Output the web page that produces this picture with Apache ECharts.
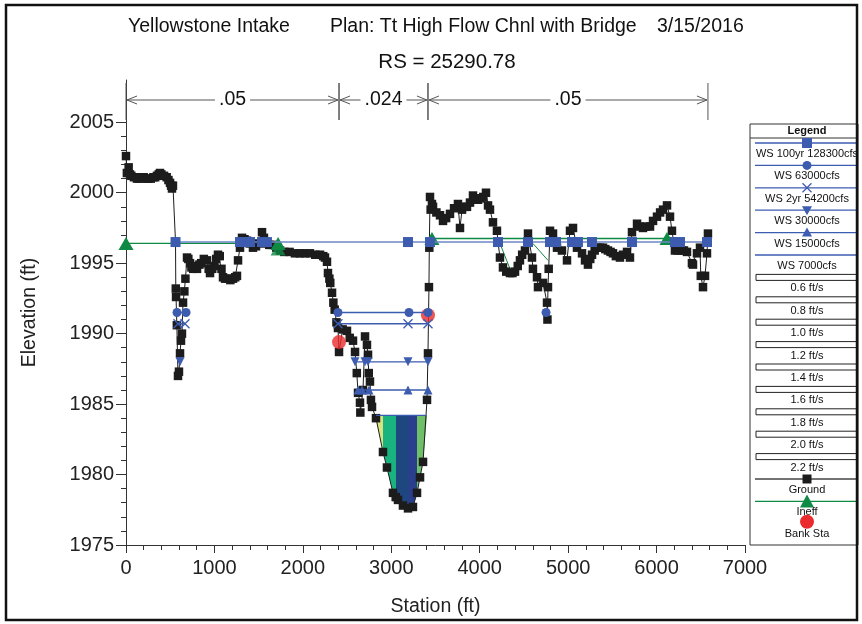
<!DOCTYPE html>
<html>
<head>
<meta charset="utf-8">
<title>Yellowstone Intake RS 25290.78</title>
<script src="https://cdn.jsdelivr.net/npm/echarts@6/dist/echarts.min.js"></script>
<style>
html, body { margin: 0; padding: 0; background: #fff; }
#chart { width: 862px; height: 624px; }
</style>
</head>
<body>
<div id="chart"></div>
<script>
// ground profile, station (ft) / elevation (ft)
var groundSta = [0, 10, 30, 45, 60, 90, 124, 150, 175, 200, 230, 250, 280, 310, 330, 350, 370, 384, 400, 430, 460, 480, 498, 510, 520, 531,
    560, 563, 566, 575, 588, 599, 611, 622, 633, 645, 660, 672, 690, 705, 724, 740, 760, 780, 803, 830, 850, 880, 916, 935, 950, 975, 1000,
    1020, 1040, 1060, 1080, 1097, 1120, 1150, 1180, 1210, 1235, 1255, 1267, 1289, 1312, 1340, 1368, 1400, 1436, 1470, 1500, 1538, 1560,
    1594, 1620, 1650, 1700, 1742, 1790, 1850, 1910, 1968, 2020, 2080, 2140, 2194, 2230, 2250, 2273, 2284, 2300, 2310, 2330, 2345, 2360,
    2380, 2397, 2409, 2450, 2499, 2530, 2567, 2590, 2610, 2624, 2646, 2650, 2680, 2703, 2725, 2737, 2745, 2759, 2770, 2782, 2827, 2906,
    2951, 3019, 3050, 3076, 3132, 3189, 3245, 3291, 3325, 3359, 3404, 3415, 3426, 3430, 3438, 3445, 3460, 3472, 3510, 3551, 3585, 3620,
    3664, 3710, 3754, 3777, 3800, 3830, 3856, 3890, 3924, 3950, 3981, 4010, 4040, 4071, 4094, 4116, 4150, 4195, 4207, 4229, 4263, 4300,
    4342, 4370, 4399, 4430, 4455, 4480, 4512, 4546, 4591, 4602, 4648, 4659, 4716, 4761, 4766, 4772, 4780, 4795, 4829, 4874, 4930, 4987,
    5021, 5055, 5100, 5157, 5191, 5224, 5250, 5270, 5300, 5326, 5360, 5394, 5420, 5450, 5480, 5507, 5540, 5586, 5620, 5666, 5699, 5722,
    5779, 5810, 5846, 5880, 5926, 5960, 6005, 6040, 6073, 6118, 6152, 6174, 6208, 6240, 6287, 6310, 6344, 6400, 6412, 6457, 6491, 6500,
    6525, 6548, 6570, 6581];
var groundElev = [2002.6, 2001.4, 2001.8, 2001.3, 2001.2, 2001.1, 2001.0, 2001.0, 2001.1, 2001.1, 2001.0, 2001.0, 2001.0, 2001.1, 2001.1, 2001.2, 2001.3, 2001.4, 2001.3, 2001.2, 2001.1, 2000.9, 2000.7, 2000.5, 2000.3, 2000.5,
    1996.5, 1993.2, 1992.6, 1990.6, 1987.0, 1987.3, 1988.6, 1989.5, 1990.0, 1992.2, 1993.0, 1993.9, 1995.4, 1995.3, 1995.0, 1994.7, 1994.6, 1994.8, 1994.6, 1994.9, 1995.0, 1995.3, 1995.2, 1994.6, 1994.3, 1994.6, 1994.8,
    1995.3, 1995.6, 1995.5, 1994.6, 1994.0, 1993.9, 1993.9, 1993.8, 1993.9, 1994.0, 1994.1, 1995.2, 1996.1, 1996.8, 1996.7, 1996.6, 1996.4, 1996.1, 1996.2, 1996.4, 1997.2, 1996.8,
    1996.4, 1996.3, 1996.3, 1996.1, 1995.9, 1995.8, 1995.8, 1995.7, 1995.7, 1995.7, 1995.7, 1995.6, 1995.6, 1995.5, 1995.4, 1995.1, 1994.3, 1993.9, 1993.6, 1992.9, 1992.2, 1991.7,
    1990.8, 1990.4, 1988.7, 1990.3, 1990.2, 1989.7, 1989.5, 1988.7, 1987.2, 1985.8, 1985.1, 1984.4, 1986.0, 1989.8, 1989.2, 1988.5, 1987.2, 1986.6, 1985.3, 1984.8, 1984.0, 1981.6,
    1980.5, 1978.7, 1978.4, 1978.2, 1977.8, 1977.6, 1977.7, 1978.7, 1979.8, 1980.9, 1985.3, 1988.6, 1993.3, 1996.1, 1999.7, 1998.8, 1999.2, 1999.0, 1998.6, 1998.4, 1998.0, 1998.2,
    1998.5, 1998.9, 1999.2, 1997.5, 1998.8, 1999.0, 1999.0, 1999.3, 1999.8, 1999.6, 1999.5, 1999.6, 1999.7, 2000.0, 1999.1, 1998.8, 1997.9, 1997.3, 1996.5, 1995.4, 1994.7, 1994.4,
    1994.3, 1994.3, 1994.4, 1994.8, 1995.2, 1995.6, 1995.9, 1997.1, 1995.4, 1994.6, 1994.0, 1993.3, 1993.6, 1992.2, 1991.0, 1993.3, 1994.6, 1997.3, 1997.1, 1996.1, 1995.9, 1995.2,
    1997.3, 1997.5, 1996.1, 1995.7, 1995.2, 1994.9, 1995.3, 1995.6, 1995.9, 1996.1, 1996.1, 1996.1, 1996.0, 1995.9, 1995.8, 1995.7, 1995.5, 1995.4, 1995.6, 1995.8, 1995.4, 1997.2,
    1997.8, 1997.6, 1997.5, 1997.6, 1997.6, 1998.0, 1998.3, 1998.6, 1998.8, 1999.1, 1998.3, 1997.3, 1995.9, 1995.9, 1995.9, 1995.9, 1995.8, 1995.0, 1994.9, 1995.7, 1996.1, 1994.1,
    1993.3, 1994.1, 1995.7, 1997.1];

// water surfaces (null = gap)
var ws100Elev = 1996.5;
var ws100Sta = [560, 1289, 1346, 1402, 1538, 1594, 3189, 3438, 4207, 4546, 4795, 4863, 5044, 5111, 5270, 5722, 6208, 6265, 6570];
var ws63Elev = 1991.5;
var ws63Sta = [577, 679, null, 2397, 3200, 3415, null, 4750];
var ws54Elev = 1990.7;
var ws54Sta = [588, 667, null, 2397, 3189, 3415];
var ws30Elev = 1988.0;
var ws30Sta = [611, null, 2590, 2703, 2737, 3189, 3415];
var ws15Elev = 1986.0;
var ws15Sta = [2624, 2669, 2748, 3189, 3415];
var ws7Elev = 1984.2;
var ws7Sta = [2827, 3393];

// ineffective flow areas
var ineffSta = [0, 1720, null, 3460, 6118];
var ineffElev = [1996.4, 1996.4, null, 1996.75, 1996.75];
var ineffLowSta = [1720];
var ineffLowElev = [1996.0];
var hatchSta = [4229, 4342, null, 4602, 4772];
var hatchElev = [1996.4, 1994.6, null, 1996.4, 1995.2];

// bank stations
var bankSta = [2409, 3415];
var bankElev = [1989.4, 1991.3];

// velocity distribution for WS 7000cfs
var velSta = [2827, 2906, 3053, 3189, 3291, 3404];

// manning's n
var nSta = [0, 2409, 3415, 6581];
var nVal = ['.05', '.024', '.05'];

// axis ticks
var yLabels = [1975, 1980, 1985, 1990, 1995, 2000, 2005];
var yMinor = [];
for (var t = 1976; t < 2005; t++) if (t % 5 !== 0) yMinor.push(t);

var legendNames = ['WS 100yr 128300cfs', 'WS 63000cfs', 'WS 2yr 54200cfs', 'WS 30000cfs', 'WS 15000cfs', 'WS 7000cfs'];
var velLabels = ['0.6 ft/s', '0.8 ft/s', '1.0 ft/s', '1.2 ft/s', '1.4 ft/s', '1.6 ft/s', '1.8 ft/s', '2.0 ft/s', '2.2 ft/s'];

var FONT = 'Arial, "Liberation Sans", Helvetica, sans-serif';
var BLUE = '#3d5cb0';
var GREEN = '#0f8a44';
var RED = '#ea2a2c';
var BLACK = '#1c1c1c';
var velColors = ['#d9e37f', '#18b37e', '#1f477f', '#2a3f8b', '#6fbf69'];
var X_PATH = 'path://M0,0L10,10M10,0L0,10';

function pairs(xs, ys) {
    return xs.map(function(x, i) {
        return x === null ? ['-', '-'] : [x, ys[i]];
    });
}
function flat(xs, y) {
    return xs.map(function(x) {
        return x === null ? ['-', '-'] : [x, y];
    });
}
function groundAt(s) {
    for (var i = 0; i < groundSta.length - 1; i++) {
        var a = groundSta[i], b = groundSta[i + 1];
        if (b > a && s >= a && s <= b) {
            return groundElev[i] + (groundElev[i + 1] - groundElev[i]) * (s - a) / (b - a);
        }
    }
    return ws7Elev;
}

function wsSeries(name, data, symbol, size, extra) {
    var s = {
        name: name,
        type: 'line',
        data: data,
        symbol: symbol,
        symbolSize: size,
        showAllSymbol: true,
        z: 4,
        lineStyle: { color: BLUE, width: 1.3 },
        itemStyle: { color: BLUE }
    };
    for (var k in extra) s[k] = extra[k];
    return s;
}

var chart = echarts.init(document.getElementById('chart'));

// legend drawn as graphics, one row every ~22.4px
var legendItems = [];
var LX0 = 750, LX1 = 858, MX = 807;
function rowY(i) { return 143 + 22.4 * i; }
function label(text, y, bold) {
    return { type: 'text', x: MX, y: y, style: { text: text, font: (bold ? 'bold ' : '') + '11px ' + FONT, fill: '#111', align: 'center', verticalAlign: 'middle' } };
}
legendItems.push({ type: 'rect', shape: { x: LX0, y: 124, width: LX1 - LX0, height: 421 }, style: { fill: '#fff', stroke: '#333', lineWidth: 1 } });
legendItems.push(label('Legend', 131, true));
legendItems.push({ type: 'line', shape: { x1: LX0, y1: 138, x2: LX1, y2: 138 }, style: { stroke: '#333', lineWidth: 1 } });
legendNames.forEach(function(name, i) {
    var y = rowY(i);
    legendItems.push({ type: 'line', shape: { x1: LX0 + 5, y1: y, x2: LX1, y2: y }, style: { stroke: BLUE, lineWidth: 1.3 } });
    if (i === 0) legendItems.push({ type: 'rect', shape: { x: MX - 5, y: y - 5, width: 10, height: 10 }, style: { fill: BLUE } });
    if (i === 1) legendItems.push({ type: 'circle', shape: { cx: MX, cy: y, r: 4.5 }, style: { fill: BLUE } });
    if (i === 2) {
        legendItems.push({ type: 'line', shape: { x1: MX - 4.5, y1: y - 4.5, x2: MX + 4.5, y2: y + 4.5 }, style: { stroke: BLUE, lineWidth: 1.3 } });
        legendItems.push({ type: 'line', shape: { x1: MX + 4.5, y1: y - 4.5, x2: MX - 4.5, y2: y + 4.5 }, style: { stroke: BLUE, lineWidth: 1.3 } });
    }
    if (i === 3) legendItems.push({ type: 'polygon', shape: { points: [[MX - 5, y - 4], [MX + 5, y - 4], [MX, y + 5]] }, style: { fill: BLUE } });
    if (i === 4) legendItems.push({ type: 'polygon', shape: { points: [[MX - 5, y + 4], [MX + 5, y + 4], [MX, y - 5]] }, style: { fill: BLUE } });
    legendItems.push(label(name, y + 11));
});
velLabels.forEach(function(name, i) {
    var y = rowY(i + 6);
    legendItems.push({ type: 'rect', shape: { x: LX0 + 6, y: y - 3, width: LX1 - LX0 - 7, height: 6 }, style: { fill: '#fff', stroke: '#222', lineWidth: 1 } });
    legendItems.push(label(name, y + 11));
});
(function() {
    var y = rowY(15);
    legendItems.push({ type: 'line', shape: { x1: LX0 + 5, y1: y, x2: LX1, y2: y }, style: { stroke: '#444', lineWidth: 1.3 } });
    legendItems.push({ type: 'rect', shape: { x: MX - 4.5, y: y - 4.5, width: 9, height: 9 }, style: { fill: BLACK } });
    legendItems.push(label('Ground', y + 11));
    y = rowY(16);
    legendItems.push({ type: 'line', shape: { x1: LX0 + 5, y1: y, x2: LX1, y2: y }, style: { stroke: GREEN, lineWidth: 1.3 } });
    legendItems.push({ type: 'polygon', shape: { points: [[MX - 7, y + 6], [MX + 7, y + 6], [MX, y - 7]] }, style: { fill: GREEN } });
    legendItems.push(label('Ineff', y + 11));
    y = rowY(17);
    legendItems.push({ type: 'circle', shape: { cx: MX, cy: y - 2, r: 7 }, style: { fill: RED } });
    legendItems.push(label('Bank Sta', y + 10));
})();

var option = {
    animation: false,
    backgroundColor: '#fff',
    textStyle: { fontFamily: FONT },
    grid: { left: 126, right: 117, top: 80, bottom: 79 },
    xAxis: {
        type: 'value',
        min: 0,
        max: 7000,
        interval: 1000,
        name: 'Station (ft)',
        nameLocation: 'middle',
        nameGap: 52,
        nameTextStyle: { fontSize: 19.5, color: '#222', fontFamily: FONT },
        axisLine: { lineStyle: { color: '#333', width: 1 } },
        axisTick: { length: 8, lineStyle: { color: '#333' } },
        minorTick: { show: true, splitNumber: 5, length: 5, lineStyle: { color: '#333' } },
        splitLine: { show: false },
        axisLabel: {
            fontSize: 20, color: '#222', margin: 13, fontFamily: FONT,
            formatter: function(v) { return String(v); }
        }
    },
    yAxis: [{
        type: 'value',
        position: 'left',
        min: 1975,
        max: 2008,
        interval: 5,
        name: 'Elevation (ft)',
        nameLocation: 'middle',
        nameGap: 86,
        nameTextStyle: { fontSize: 19.5, color: '#222', fontFamily: FONT },
        axisLine: { show: true, lineStyle: { color: '#333', width: 1 } },
        axisTick: { show: true, length: 10, customValues: yLabels, lineStyle: { color: '#333' } },
        splitLine: { show: false },
        axisLabel: {
            fontSize: 20, color: '#222', margin: 12, fontFamily: FONT,
            customValues: yLabels,
            formatter: function(v) { return String(v); }
        }
    }, {
        // minor 1-ft ticks only below the last labelled value
        type: 'value',
        position: 'left',
        offset: 0,
        min: 1975,
        max: 2008,
        axisLine: { show: false },
        axisLabel: { show: false },
        splitLine: { show: false },
        axisTick: { show: true, length: 5, customValues: yMinor, lineStyle: { color: '#333' } }
    }],
    graphic: [
        { type: 'rect', shape: { x: 6, y: 5, width: 851, height: 615 }, style: { fill: null, stroke: '#111', lineWidth: 2.5 }, z: 100 },
        { type: 'text', x: 128, y: 27, style: { text: 'Yellowstone Intake', font: '19.5px ' + FONT, fill: '#111', verticalAlign: 'middle' } },
        { type: 'text', x: 330, y: 27, style: { text: 'Plan: Tt High Flow Chnl with Bridge', font: '19.5px ' + FONT, fill: '#111', verticalAlign: 'middle' } },
        { type: 'text', x: 657, y: 27, style: { text: '3/15/2016', font: '19.5px ' + FONT, fill: '#111', verticalAlign: 'middle' } },
        { type: 'text', x: 447, y: 62, style: { text: 'RS = 25290.78', font: '20.5px ' + FONT, fill: '#111', align: 'center', verticalAlign: 'middle' } }
    ].concat(legendItems),
    series: [
        {
            name: 'velocity',
            type: 'custom',
            z: 1,
            data: velSta.slice(0, -1).map(function(s, i) { return [s, velSta[i + 1]]; }),
            encode: { x: [0, 1] },
            renderItem: function(params, api) {
                var i = params.dataIndex;
                var x0 = velSta[i], x1 = velSta[i + 1];
                var pts = [api.coord([x0, ws7Elev]), api.coord([x1, ws7Elev])];
                pts.push(api.coord([x1, Math.min(groundAt(x1), ws7Elev)]));
                for (var k = groundSta.length - 1; k >= 0; k--) {
                    if (groundSta[k] > x0 && groundSta[k] < x1) {
                        pts.push(api.coord([groundSta[k], Math.min(groundElev[k], ws7Elev)]));
                    }
                }
                pts.push(api.coord([x0, Math.min(groundAt(x0), ws7Elev)]));
                return { type: 'polygon', shape: { points: pts }, style: { fill: velColors[i] } };
            }
        },
        {
            name: 'Ground',
            type: 'line',
            z: 3,
            data: pairs(groundSta, groundElev),
            symbol: 'rect',
            symbolSize: 8.5,
            showAllSymbol: true,
            lineStyle: { color: BLACK, width: 1 },
            itemStyle: { color: BLACK }
        },
        {
            name: 'Ineff',
            type: 'line',
            z: 3,
            data: pairs(ineffSta, ineffElev),
            symbol: 'triangle',
            symbolSize: [15, 13],
            lineStyle: { color: GREEN, width: 1.3 },
            itemStyle: { color: GREEN }
        },
        {
            name: 'Ineff low',
            type: 'scatter',
            z: 3,
            data: pairs(ineffLowSta, ineffLowElev),
            symbol: 'triangle',
            symbolSize: [15, 13],
            itemStyle: { color: GREEN }
        },
        {
            name: 'Ineff hatch',
            type: 'line',
            z: 2,
            data: pairs(hatchSta, hatchElev),
            symbol: 'none',
            lineStyle: { color: GREEN, width: 1 }
        },
        wsSeries('WS 7000cfs', flat(ws7Sta, ws7Elev), 'none', 0, {}),
        wsSeries('WS 15000cfs', flat(ws15Sta, ws15Elev), 'triangle', 9, {}),
        wsSeries('WS 30000cfs', flat(ws30Sta, ws30Elev), 'triangle', 9, { symbolRotate: 180 }),
        wsSeries('WS 2yr 54200cfs', flat(ws54Sta, ws54Elev), X_PATH, 9, {
            itemStyle: { color: 'rgba(0,0,0,0)', borderColor: BLUE, borderWidth: 1.3 }
        }),
        {
            name: 'Bank Sta',
            type: 'scatter',
            z: 3,
            data: pairs(bankSta, bankElev),
            symbol: 'circle',
            symbolSize: 14,
            itemStyle: { color: RED }
        },
        wsSeries('WS 63000cfs', flat(ws63Sta, ws63Elev), 'circle', 9, {}),
        wsSeries('WS 100yr 128300cfs', flat(ws100Sta, ws100Elev), 'rect', 10, {
            lineStyle: { color: '#6f86c4', width: 1.5 }
        }),
        {
            name: "Manning's n",
            type: 'custom',
            z: 5,
            clip: false,
            data: nVal.map(function(v, i) { return [nSta[i], nSta[i + 1]]; }),
            encode: { x: [0, 1] },
            renderItem: function(params, api) {
                var i = params.dataIndex;
                var a = api.coord([nSta[i], 1975])[0];
                var b = api.coord([nSta[i + 1], 1975])[0];
                var top = params.coordSys.y;
                var y = top + 20;
                var st = { stroke: '#555', lineWidth: 1, fill: null };
                return {
                    type: 'group',
                    children: [
                        { type: 'line', shape: { x1: a, y1: top + 3, x2: a, y2: top + 40 }, style: st },
                        { type: 'line', shape: { x1: b, y1: top + 3, x2: b, y2: top + 40 }, style: st },
                        { type: 'line', shape: { x1: a + 1, y1: y, x2: b - 1, y2: y }, style: st },
                        { type: 'polyline', shape: { points: [[a + 11, y - 4], [a + 1, y], [a + 11, y + 4]] }, style: st },
                        { type: 'polyline', shape: { points: [[b - 11, y - 4], [b - 1, y], [b - 11, y + 4]] }, style: st },
                        {
                            type: 'text', x: (a + b) / 2, y: y,
                            style: { text: nVal[i], font: '19.5px ' + FONT, fill: '#111', align: 'center', verticalAlign: 'middle', backgroundColor: '#fff', padding: [0, 4] }
                        }
                    ]
                };
            }
        }
    ]
};

chart.setOption(option);
</script>
</body>
</html>
